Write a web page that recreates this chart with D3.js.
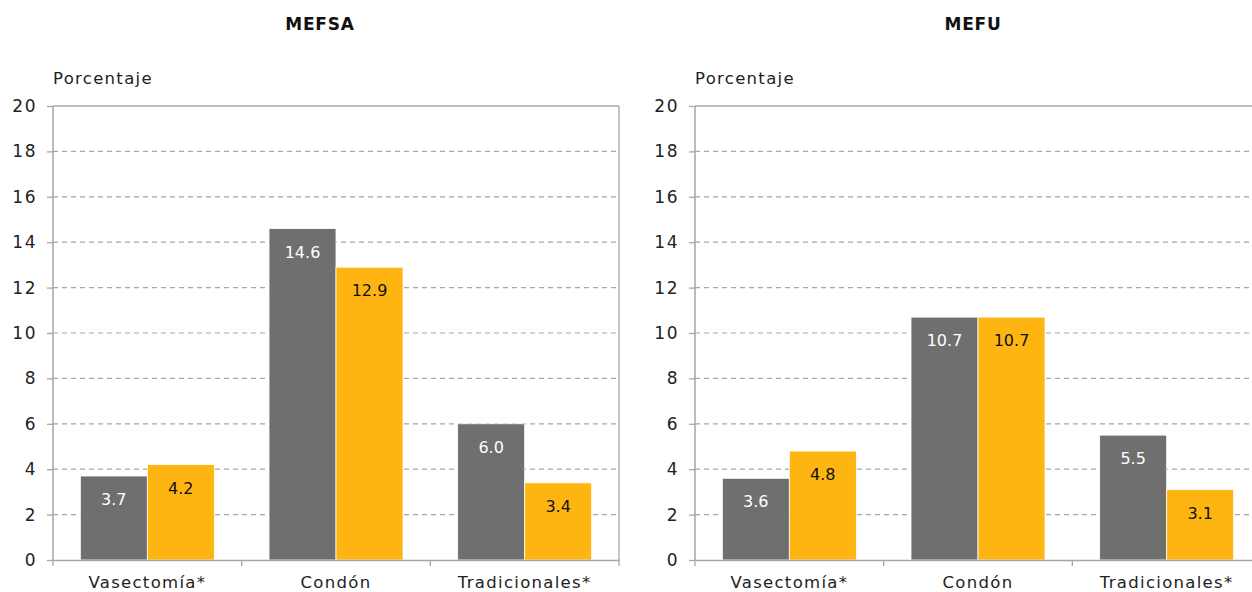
<!DOCTYPE html>
<html><head><meta charset="utf-8">
<script src="https://cdn.jsdelivr.net/npm/d3@7"></script>
<style>body{margin:0;background:#fff;} svg{display:block;font-family:"DejaVu Sans",sans-serif;}</style>
</head><body>
<script>
const categories = ["Vasectomía*", "Condón", "Tradicionales*"];
const panelTitles = ["MEFSA", "MEFU"];
const mefsaGray = [3.7, 14.6, 6.0];
const mefsaOrange = [4.2, 12.9, 3.4];
const mefuGray = [3.6, 10.7, 5.5];
const mefuOrange = [4.8, 10.7, 3.1];
const yTicks = [0, 2, 4, 6, 8, 10, 12, 14, 16, 18, 20];
const yLabel = "Porcentaje";

(function () {
const FONT = "DejaVu Sans";
const panels = [
  {title: panelTitles[0], gray: mefsaGray, orange: mefsaOrange, x0: 53, titleX: 320},
  {title: panelTitles[1], gray: mefuGray, orange: mefuOrange, x0: 695, titleX: 973}
];
const W = 1252, H = 592;
const plotTop = 106, plotBottom = 560, pw = 566;
const svg = d3.select("body").append("svg").attr("width", W).attr("height", H);
const y = d3.scaleLinear().domain([0, 20]).range([plotBottom, plotTop]);
const GRAY = "#6f6f6f", ORANGE = "#ffb511", AX = "#a6a6a6";

panels.forEach(p => {
  const g = svg.append("g");
  const x = d3.scaleBand().domain(categories).range([p.x0, p.x0 + pw]).paddingInner(0).paddingOuter(0);
  const bw = 67;
  g.selectAll(".grid").data(yTicks.filter(t => t > 0 && t < 20)).join("line")
    .attr("x1", p.x0).attr("x2", p.x0 + pw).attr("y1", d => y(d)).attr("y2", d => y(d))
    .attr("stroke", "#a6a6a6").attr("stroke-width", 1.2).attr("stroke-dasharray", "5,4");
  g.append("line").attr("x1", p.x0).attr("x2", p.x0 + pw).attr("y1", y(20)).attr("y2", y(20))
    .attr("stroke", AX).attr("stroke-width", 1.3);
  g.append("line").attr("x1", p.x0 + pw).attr("x2", p.x0 + pw).attr("y1", y(20)).attr("y2", plotBottom + 6)
    .attr("stroke", AX).attr("stroke-width", 1.3);
  const cats = categories.map((c, i) => ({c, g: p.gray[i], o: p.orange[i]}));
  const cg = g.selectAll(".cat").data(cats).join("g");
  cg.append("rect").attr("x", d => x(d.c) + x.bandwidth() / 2 - bw).attr("width", bw)
    .attr("y", d => y(d.g)).attr("height", d => plotBottom - y(d.g)).attr("fill", GRAY)
    .attr("stroke", "#fff").attr("stroke-width", 0.8);
  cg.append("rect").attr("x", d => x(d.c) + x.bandwidth() / 2).attr("width", bw)
    .attr("y", d => y(d.o)).attr("height", d => plotBottom - y(d.o)).attr("fill", ORANGE)
    .attr("stroke", "#fff").attr("stroke-width", 0.8);
  cg.append("text").attr("x", d => x(d.c) + x.bandwidth() / 2 - bw / 2).attr("y", d => y(d.g) + 29)
    .attr("text-anchor", "middle").attr("font-size", 16).attr("fill", "#fff").text(d => d.g.toFixed(1));
  cg.append("text").attr("x", d => x(d.c) + x.bandwidth() / 2 + bw / 2).attr("y", d => y(d.o) + 29)
    .attr("text-anchor", "middle").attr("font-size", 16).attr("fill", "#111").text(d => d.o.toFixed(1));
  const ya = g.append("g").attr("transform", `translate(${p.x0},0)`)
    .call(d3.axisLeft(y).tickValues(yTicks).tickSize(6).tickPadding(10).tickFormat(d3.format("d")));
  ya.select(".domain").attr("stroke", AX).attr("stroke-width", 1.5).attr("d", `M0,${plotTop}V${plotBottom}`);
  ya.selectAll(".tick line").attr("stroke", AX).attr("stroke-width", 1.3);
  ya.selectAll("text").attr("font-size", 17).attr("fill", "#222").attr("font-family", FONT)
    .attr("letter-spacing", 1.5);
  const xa = g.append("g").attr("transform", `translate(0,${plotBottom})`)
    .call(d3.axisBottom(x).tickSize(0).tickPadding(16));
  xa.select(".domain").attr("stroke", AX).attr("stroke-width", 1.5);
  xa.selectAll("text").attr("font-size", 16.5).attr("fill", "#222").attr("font-family", FONT)
    .attr("letter-spacing", 1.3);
  g.selectAll(".bt").data(categories).join("line")
    .attr("x1", d => x(d)).attr("x2", d => x(d)).attr("y1", plotBottom).attr("y2", plotBottom + 6)
    .attr("stroke", AX).attr("stroke-width", 1.3);
  g.append("text").attr("x", p.x0).attr("y", 84).attr("font-size", 16.5).attr("fill", "#222")
    .attr("letter-spacing", 1.3).text(yLabel);
  g.append("text").attr("x", p.titleX).attr("y", 30).attr("text-anchor", "middle")
    .attr("font-size", 17).attr("font-weight", "bold").attr("fill", "#111")
    .attr("letter-spacing", 0.8).text(p.title);
});
})();
</script>
</body></html>
